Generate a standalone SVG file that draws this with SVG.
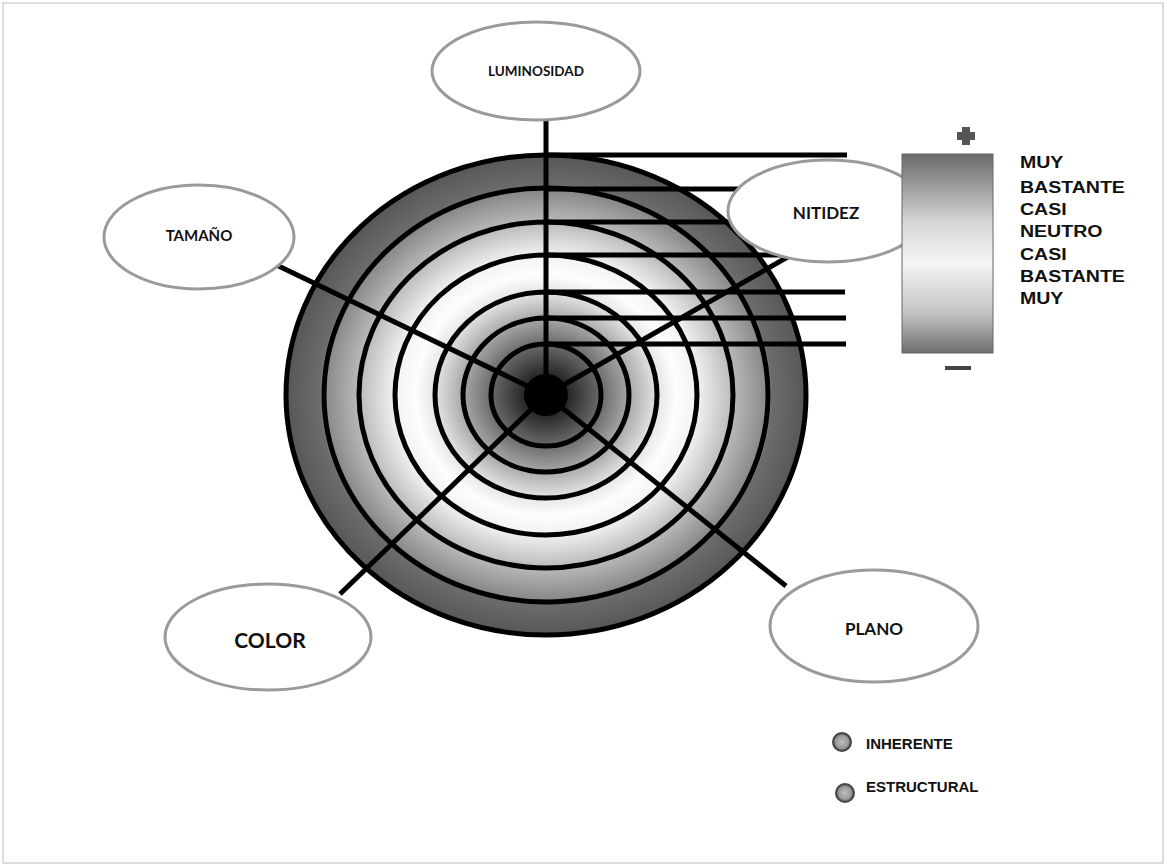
<svg xmlns="http://www.w3.org/2000/svg" width="1167" height="867" viewBox="0 0 1167 867">
<defs>
<radialGradient id="rg" cx="0.5" cy="0.5" r="0.5">
<stop offset="0" stop-color="#000"/>
<stop offset="0.09" stop-color="#2a2a2a"/>
<stop offset="0.2" stop-color="#646464"/>
<stop offset="0.32" stop-color="#a8a8a8"/>
<stop offset="0.43" stop-color="#e6e6e6"/>
<stop offset="0.5" stop-color="#fdfdfd"/>
<stop offset="0.58" stop-color="#f3f3f3"/>
<stop offset="0.72" stop-color="#bababa"/>
<stop offset="0.86" stop-color="#858585"/>
<stop offset="0.87" stop-color="#6c6c6c"/>
<stop offset="1" stop-color="#575757"/>
</radialGradient>
<linearGradient id="scale" x1="0" y1="0" x2="0" y2="1">
<stop offset="0" stop-color="#6a6a6a"/>
<stop offset="0.35" stop-color="#d8d8d8"/>
<stop offset="0.55" stop-color="#f4f4f4"/>
<stop offset="0.8" stop-color="#c4c4c4"/>
<stop offset="1" stop-color="#6e6e6e"/>
</linearGradient>
<radialGradient id="dot" cx="0.5" cy="0.5" r="0.5">
<stop offset="0" stop-color="#bdbdbd"/>
<stop offset="0.7" stop-color="#9a9a9a"/>
<stop offset="1" stop-color="#555"/>
</radialGradient>
</defs>
<style>
.ring{fill:none;stroke:#000;stroke-width:5}
.ln{stroke:#000;stroke-width:5;stroke-linecap:butt}
.node ellipse{fill:#fff;stroke:#9a9a9a;stroke-width:3}
.lbl{font-family:Lato,"Open Sans",sans-serif;font-weight:700;fill:#111;text-anchor:middle;dominant-baseline:central}
.sc{font-family:"Liberation Sans",Arial,sans-serif;font-weight:700;fill:#111;font-size:17px}
.lg{font-family:"Liberation Sans",Arial,sans-serif;font-weight:700;fill:#111;font-size:15px}
</style>
<rect x="3" y="3" width="1160" height="860" fill="#fff" stroke="#bbb" stroke-width="1"/>
<g id="target">
<ellipse cx="546" cy="395" rx="260" ry="240" fill="url(#rg)"/>
<ellipse class="ring" cx="546" cy="395" rx="260" ry="240"/>
<ellipse class="ring" cx="546" cy="395" rx="222" ry="207"/>
<ellipse class="ring" cx="546" cy="395" rx="187" ry="173"/>
<ellipse class="ring" cx="546" cy="395" rx="151" ry="140"/>
<ellipse class="ring" cx="546" cy="395" rx="111" ry="103"/>
<ellipse class="ring" cx="546" cy="395" rx="83" ry="77"/>
<ellipse class="ring" cx="546" cy="395" rx="55" ry="51"/>
<ellipse cx="546" cy="395" rx="22" ry="21" fill="#000"/>
</g>
<g id="connectors">
<line class="ln" x1="546" y1="155" x2="847" y2="155"/>
<line class="ln" x1="546" y1="189" x2="845" y2="189"/>
<line class="ln" x1="546" y1="222" x2="845" y2="222"/>
<line class="ln" x1="546" y1="255" x2="800" y2="255"/>
<line class="ln" x1="546" y1="292" x2="845" y2="292"/>
<line class="ln" x1="546" y1="318" x2="846" y2="318"/>
<line class="ln" x1="546" y1="344" x2="846" y2="344"/>
<line class="ln" x1="546" y1="118" x2="546" y2="395"/>
<line class="ln" x1="262" y1="258" x2="546" y2="395"/>
<line class="ln" x1="800" y1="250" x2="546" y2="395"/>
<line class="ln" x1="340" y1="594" x2="546" y2="395"/>
<line class="ln" x1="546" y1="395" x2="786" y2="586"/>
</g>
<g id="luminosidad" class="node"><ellipse cx="536" cy="71" rx="104" ry="49"/><text class="lbl" x="536" y="71" font-size="13.5">LUMINOSIDAD</text></g>
<g id="tamano" class="node"><ellipse cx="199" cy="237" rx="95" ry="52"/><text class="lbl" x="199" y="235" font-size="15">TAMAÑO</text></g>
<g id="nitidez" class="node"><ellipse cx="828" cy="211" rx="100" ry="51"/><text class="lbl" x="826" y="212" font-size="17">NITIDEZ</text></g>
<g id="color" class="node"><ellipse cx="268" cy="637" rx="103" ry="53"/><text class="lbl" x="270" y="639" font-size="21">COLOR</text></g>
<g id="plano" class="node"><ellipse cx="874" cy="626" rx="104" ry="56"/><text class="lbl" x="874" y="628" font-size="17">PLANO</text></g>
<g id="scale-bar">
<path d="M962 127h8v5h5v8h-5v5h-8v-5h-5v-8h5z" fill="#555"/>
<rect x="902" y="154" width="91" height="199" fill="url(#scale)" stroke="#666" stroke-width="1"/>
<rect x="945" y="366" width="26" height="4" fill="#444"/>
<g transform="translate(1020,0) scale(1.15,1)">
<text class="sc" x="0" y="168">MUY</text>
<text class="sc" x="0" y="193">BASTANTE</text>
<text class="sc" x="0" y="215">CASI</text>
<text class="sc" x="0" y="237">NEUTRO</text>
<text class="sc" x="0" y="260">CASI</text>
<text class="sc" x="0" y="282">BASTANTE</text>
<text class="sc" x="0" y="304">MUY</text>
</g>
</g>
<g id="legend">
<circle cx="842" cy="742" r="9" fill="url(#dot)" stroke="#444" stroke-width="2"/>
<text class="lg" x="866" y="749">INHERENTE</text>
<circle cx="845" cy="793" r="9" fill="url(#dot)" stroke="#444" stroke-width="2"/>
<text class="lg" x="866" y="792">ESTRUCTURAL</text>
</g>
</svg>
